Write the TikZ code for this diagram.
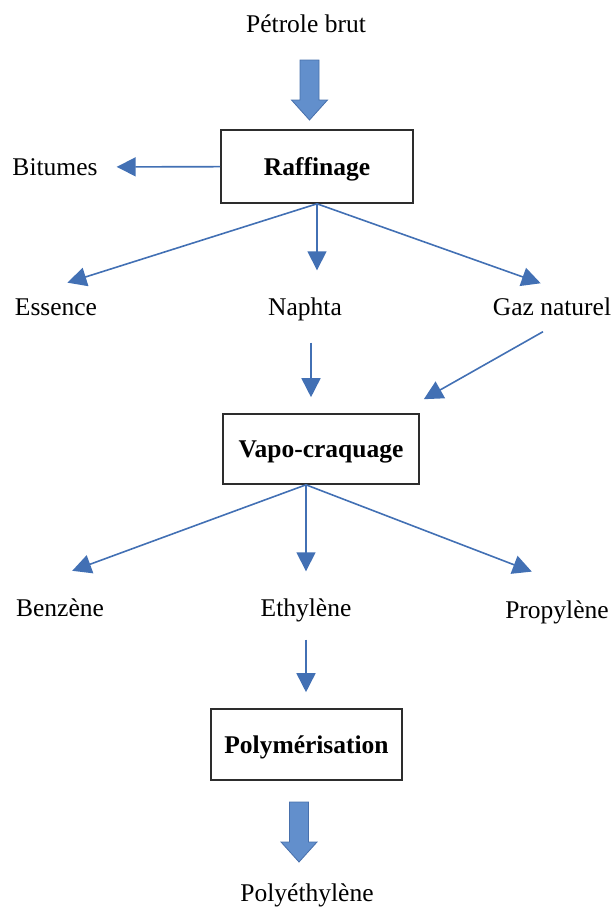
\documentclass[tikz,border=0pt]{standalone}
\usepackage{fontspec}
\setmainfont{Liberation Serif}
\usepackage{tikz}
\usetikzlibrary{arrows.meta, positioning, calc}
\definecolor{flowblue}{RGB}{66,112,180}
\definecolor{fatfill}{RGB}{98,143,204}
\definecolor{fatdraw}{RGB}{72,112,172}
\definecolor{boxgray}{RGB}{45,45,45}
\tikzset{
  lbl/.style={font=\fontsize{25.5}{30}\selectfont, text height=17pt,
    text depth=0pt, inner sep=0pt},
  procbox/.style={rectangle, draw=boxgray, fill=white, line width=1.6pt,
    font=\fontsize{25.5}{30}\selectfont\bfseries, text height=17pt,
    text depth=0pt, inner sep=0pt, minimum width=191pt, minimum height=71pt},
  flow/.style={-{Triangle[length=19pt, width=19pt]}, line width=1.6pt, color=flowblue},
  fatarrow/.style={fill=fatfill, draw=fatdraw, line width=0.8pt}
}
% wide down arrow: x, top y, tip y
\newcommand{\fatdown}[3]{%
  \draw[fatarrow] (#1-9.5,#2) -- (#1+9.5,#2) -- (#1+9.5,#3-20) -- (#1+18,#3-20)
    -- (#1,#3) -- (#1-18,#3-20) -- (#1-9.5,#3-20) -- cycle;}
\begin{document}
\begin{tikzpicture}[x=1pt, y=-1pt]
  \useasboundingbox (0,0) rectangle (616,908);

  % Raffinage stage
  \node[lbl] (brut) at (306,24) {Pétrole brut};
  \node[procbox, minimum width=192pt, minimum height=73pt] (raff) at (317,166.5) {Raffinage};
  \fatdown{309.5}{60}{120}

  \node[lbl] (bitumes) at (55,167) {Bitumes};
  \node[lbl] (essence) at (56,307) {Essence};
  \node[lbl] (naphta) at (305,307) {Naphta};
  \node[lbl] (gaz) at (552,307) {Gaz naturel};

  \draw[flow, shorten >=19pt] (raff) -- (bitumes);
  \draw[flow, shorten >=12pt] (raff.south) -- ([yshift=12pt]essence.north);
  \draw[flow, shorten >=28pt] (raff.south) -- (raff.south |- naphta.north);
  \draw[flow, shorten >=12pt] (raff.south) -- ([yshift=11pt]gaz.north);

  % Vapo-craquage stage
  \node[procbox, minimum width=196pt, minimum height=70pt] (vapo) at (321,449) {Vapo-craquage};
  \draw[flow, shorten <=27pt, shorten >=16pt] ([xshift=6pt]naphta.south)
    -- ([xshift=6pt]naphta.south |- vapo.north);
  \draw[flow] ([xshift=-9pt, yshift=-16pt]gaz.south) -- ([xshift=4pt, yshift=14pt]vapo.north east);

  \node[lbl] (benzene) at (60,608) {Benzène};
  \node[lbl] (ethylene) at (306,608) {Ethylène};
  \node[lbl] (propylene) at (557,610) {Propylène};

  \coordinate (vsplit) at ([xshift=-15pt]vapo.south);
  \draw[flow, shorten >=13pt] (vsplit) -- ([yshift=24pt]benzene.north);
  \draw[flow, shorten >=28pt] (vsplit) -- (vsplit |- ethylene.north);
  \draw[flow, shorten >=27pt] (vsplit) -- ([yshift=20pt]propylene.north);

  % Polymerisation stage
  \node[procbox] (polym) at (306.5,744.5) {Polymérisation};
  \draw[flow, shorten <=23pt, shorten >=16pt] (ethylene.south) -- (ethylene.south |- polym.north);

  \fatdown{299}{802}{862}
  \node[lbl] (polyeth) at (307,893) {Polyéthylène};
\end{tikzpicture}
\end{document}
